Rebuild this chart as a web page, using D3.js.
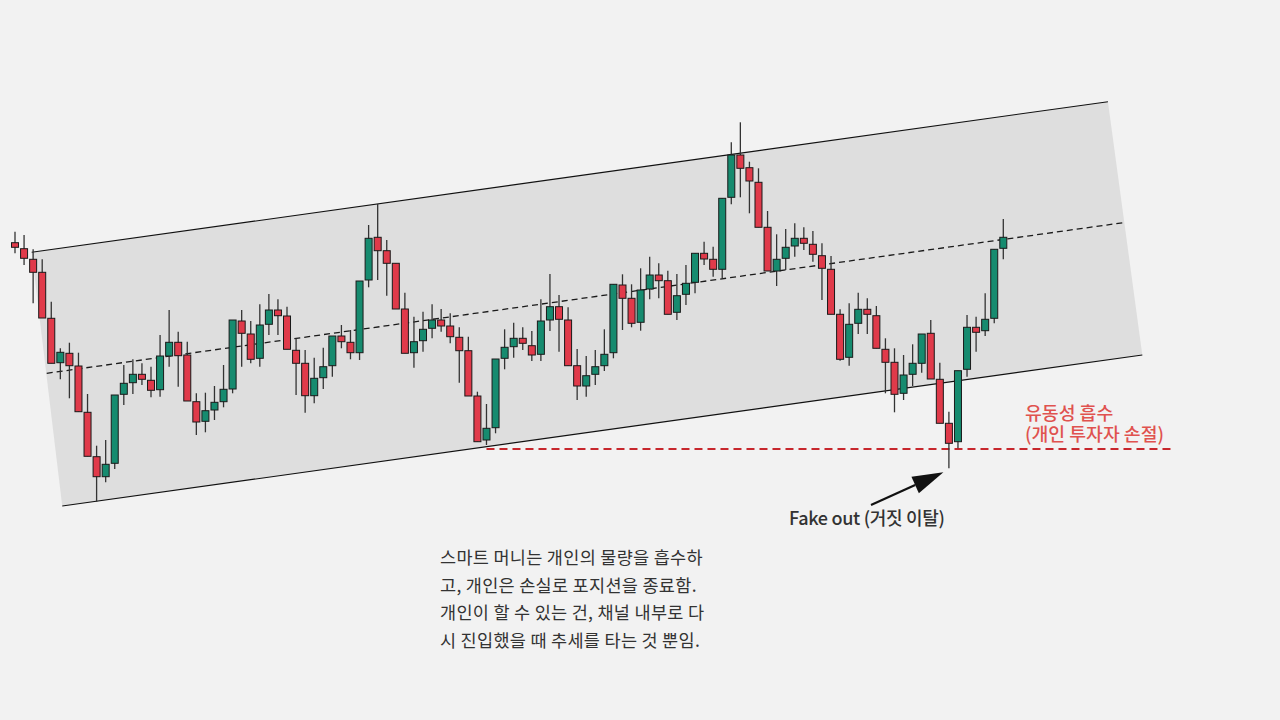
<!DOCTYPE html>
<html><head><meta charset="utf-8">
<script src="https://cdn.jsdelivr.net/npm/d3@7/dist/d3.min.js"></script>
<style>html,body{margin:0;padding:0;background:#f2f2f2;}svg{display:block;}</style>
</head><body>
<script>
// ---- data (price units) ----
const opens  = [757.3,751.3,740.7,727.7,681.7,637.3,646.7,634,587.7,543.3,523.3,536.7,605.7,617.3,625.7,619.7,610.3,644,657.7,645,598.3,578.7,590,598.3,611,679,666,641.7,675.7,690,684,649.7,636.7,604.3,622.3,634.3,664,657.7,647.3,720,762.7,749.3,736.7,691,647.3,659.3,671.7,680,674,662.7,649.3,604,560,572.3,641.7,653.3,661.7,654.3,645.7,680,693.3,680,634.3,614,625.7,634.3,647.3,715,701.7,677.7,711,725,719.3,687.7,705.7,717.7,746.7,740.7,730.7,802.7,845,832.3,817.7,772.7,729,741.7,754,761.7,755.7,744.3,730.7,685.7,642.7,676.7,690.7,684.3,650.7,637.7,606.7,625.7,636.7,666.7,620.7,576.7,558.3,630.7,672.7,669.3,681.7,751.7];
const highs  = [768.3,765,750.7,740.7,698.3,651.7,657.3,647.3,606,554.3,560,605,635,640.7,636.7,633.3,665,690,668.3,658.3,606.7,607.3,614,635,680,690,679,695.7,706,700.7,693.3,661.7,650,642.3,652.3,664,675,670,719,775,796,760,736.7,707.3,683.3,688.3,695.7,691,686.7,672.7,663.3,608.3,596,641,670.7,677.3,672.7,669,700.7,726,705,692.7,651,644,650,670.7,715.7,725.7,715.7,731.7,743.3,736.7,729.3,726,735,746.7,758.3,753.3,801.7,857.7,877.7,838.3,831.7,789,765.7,771,776.7,772.7,769,756.7,744,690.7,696.7,707.3,701.7,694,661.7,651.7,645,655.7,666,680,637.3,588.3,629.3,685,683.3,706.7,750.7,781];
const lows   = [746.7,735,696.7,682,636.7,620.7,601.7,588.3,543.7,498.3,517.7,531,595,606,615,602.7,603.3,633.3,613.3,599,565,567.7,580,592.7,606.7,633.3,636.7,633.3,665,665,650.7,605,587.3,596.7,611,623.3,651.7,640.7,640,712.7,720,704.3,691,646.7,632.3,648.3,661.7,668.3,656.7,617.3,604,558.3,555,566.7,630.7,642.3,650,639,639,669,648.3,634.3,600,603.3,615,629,641.7,670,672.7,669.3,700.7,701.7,685.7,680,695,706.7,735,723.3,721.7,795.7,802.7,786.7,772.7,729,714,730,743.3,750,738.3,700,685.7,639.3,634.3,666,666,651.7,606.7,587.7,600,614,627.3,621,576.7,531.7,551.7,623.3,648.3,664,676.7,740.7];
const closes = [752.7,741.7,727.7,682,636.7,647.7,634.3,588.3,543.7,523.3,535.7,605,616.7,625.7,620.7,609.7,644,657.7,644.3,599,578,589.3,597.7,610.7,680,666.7,640.7,675,690,684.3,650.7,636.7,604.3,621.7,633.3,664,658.3,647.3,719,761.7,749.3,736.7,691,646.7,658.3,670.7,680,674,663.3,649.3,604,558.3,571.7,641,652.7,661.7,656.7,645,679,693.3,680.7,634.3,614,624.3,633.3,645.7,715.7,701.7,676.7,710,725,719.3,685.7,704.3,716.7,746.7,741,730.7,801.7,845,831.7,819,772.7,729,740.7,752.7,761.7,756.7,745.7,731.7,685.7,640.7,675.7,690.7,685.7,651.7,637.7,605.7,625,636.7,666,621,576.7,556.7,629.3,672.7,667.7,680.7,750.7,762.7];

// channel lines: [candle index, price] at both ends
const channelUpper = [[1.84, 747.7], [120.54, 898.3]];
const channelMid   = [[3.5, 626.7], [122.2, 777.3]];
const channelLower = [[5.21, 494], [124.33, 645]];
// liquidity sweep level (starts at the swing low of candle 52)
const liquidityStart = 52, liquidityEnd = 127.7, liquidityLevel = 551;
const fakeoutIndex = 103;

const labelLiquidity = ["유동성 흡수", "(개인 투자자 손절)"];
const labelFakeout = "Fake out (거짓 이탈)";
const noteLines = [
  "스마트 머니는 개인의 물량을 흡수하",
  "고, 개인은 손실로 포지션을 종료함.",
  "개인이 할 수 있는 건, 채널 내부로 다",
  "시 진입했을 때 추세를 타는 것 뿐임."
];

// ---- drawing ----
const W = 1280, H = 720;
const FONT = "'Noto Sans CJK KR', 'Noto Sans', sans-serif";
const candles = opens.map((o, i) => ({i, o, h: highs[i], l: lows[i], c: closes[i]}));
const x = d3.scaleLinear().domain([0, candles.length - 1]).range([15, 1003.3]);
const y = d3.scaleLinear().domain([440, 1000]).range([560, 0]);

const svg = d3.select("body").append("svg").attr("width", W).attr("height", H);
svg.append("rect").attr("width", W).attr("height", H).attr("fill", "#f2f2f2");

// channel fill
const poly = [channelUpper[0], channelUpper[1], channelLower[1], channelLower[0]];
const line = d3.line().x(d => x(d[0])).y(d => y(d[1]));
svg.append("path").attr("d", line(poly) + "Z").attr("fill", "#dedede");

svg.append("path").attr("d", line(channelUpper)).attr("stroke", "#111").attr("stroke-width", 1.1).attr("fill", "none");
svg.append("path").attr("d", line(channelLower)).attr("stroke", "#111").attr("stroke-width", 1.1).attr("fill", "none");
svg.append("path").attr("d", line(channelMid)).attr("stroke", "#1a1a1a").attr("stroke-width", 1.3)
  .attr("stroke-dasharray", "6,4").attr("fill", "none");

// liquidity line
svg.append("line")
  .attr("x1", x(liquidityStart)).attr("x2", x(liquidityEnd))
  .attr("y1", y(liquidityLevel)).attr("y2", y(liquidityLevel))
  .attr("stroke", "#c7272d").attr("stroke-width", 2).attr("stroke-dasharray", "8,5");

// candles
const bw = 7;
const cg = svg.append("g").selectAll("g.c").data(candles).enter().append("g");
cg.append("line")
  .attr("x1", d => x(d.i)).attr("x2", d => x(d.i))
  .attr("y1", d => y(d.h)).attr("y2", d => y(d.l))
  .attr("stroke", "#333").attr("stroke-width", 1.3);
cg.append("rect")
  .attr("x", d => x(d.i) - bw / 2).attr("width", bw)
  .attr("y", d => y(Math.max(d.o, d.c)))
  .attr("height", d => Math.max(1, Math.abs(y(d.o) - y(d.c))))
  .attr("fill", d => d.c >= d.o ? "#168b6f" : "#e03a4a")
  .attr("stroke", "#1a1a1a").attr("stroke-width", 1);

// liquidity labels
labelLiquidity.forEach((t, k) => svg.append("text")
  .attr("x", 1025).attr("y", 420 + k * 21)
  .attr("fill", "#e0524f").attr("font-family", FONT)
  .attr("font-size", 18.3).attr("font-weight", 500).text(t));

// fake out arrow
const fx = x(fakeoutIndex), fy = y(lows[fakeoutIndex]);
const tip = [fx - 5.5, fy + 4];
const start = [871, 505];
const ang = Math.atan2(tip[1] - start[1], tip[0] - start[0]);
const hl = 31, hw = 9;
const base = [tip[0] - hl * Math.cos(ang), tip[1] - hl * Math.sin(ang)];
svg.append("line").attr("x1", start[0]).attr("y1", start[1]).attr("x2", base[0]).attr("y2", base[1])
  .attr("stroke", "#111").attr("stroke-width", 2.2);
svg.append("path")
  .attr("d", `M${tip[0]},${tip[1]} L${base[0] - hw * Math.sin(ang)},${base[1] + hw * Math.cos(ang)} L${base[0] + hw * Math.sin(ang)},${base[1] - hw * Math.cos(ang)} Z`)
  .attr("fill", "#111");

svg.append("text").attr("x", 789).attr("y", 525)
  .attr("fill", "#333").attr("font-family", FONT)
  .attr("font-size", 18).attr("font-weight", 500).attr("letter-spacing", -0.3)
  .text(labelFakeout);

// explanatory note
noteLines.forEach((t, k) => svg.append("text")
  .attr("x", 440).attr("y", 564 + k * 27.6)
  .attr("fill", "#333").attr("font-family", FONT)
  .attr("font-size", 17.5).attr("letter-spacing", 0.3).text(t));
</script>
</body></html>
